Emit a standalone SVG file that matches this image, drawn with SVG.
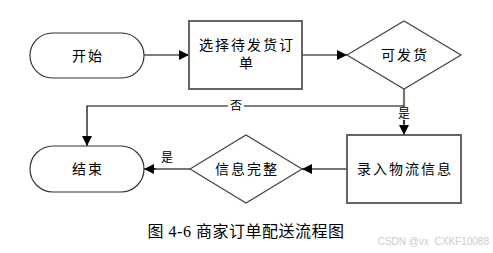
<svg xmlns="http://www.w3.org/2000/svg" width="493" height="253" viewBox="0 0 493 253">
<style>
.t{font-family:"Liberation Sans","Noto Sans CJK SC",sans-serif;font-size:14px;fill:#000;text-anchor:middle;letter-spacing:2px}
.l{font-family:"Liberation Sans","Noto Sans CJK SC",sans-serif;font-size:12px;fill:#000;text-anchor:middle}
.term{fill:#fff;stroke:#333;stroke-width:1.2}
.box{fill:#fff;stroke:#555;stroke-width:1.8}
.dia{fill:#fff;stroke:#444;stroke-width:1.2}
.c{fill:none;stroke:#000;stroke-width:1.2}
.g{fill:none;stroke:#777;stroke-width:2.2}
</style>
<defs>
<marker id="a" viewBox="0 0 10 10" refX="10" refY="5" markerWidth="10" markerHeight="10" markerUnits="userSpaceOnUse" orient="auto">
<path d="M0,0 L10,5 L0,10 Z" fill="#000"/>
</marker>
</defs>
<rect width="493" height="253" fill="#fff"/>
<g id="connectors">
<line class="c" x1="144" y1="55" x2="189" y2="55" marker-end="url(#a)"/>
<line class="c" x1="302" y1="55" x2="347" y2="55" marker-end="url(#a)"/>
<line class="g" x1="404" y1="89" x2="404" y2="124"/>
<line class="c" x1="404" y1="120" x2="404" y2="135" marker-end="url(#a)"/>
<polyline class="c" points="404,106 87,106 87,146" marker-end="url(#a)"/>
<line class="g" x1="347" y1="169" x2="312" y2="169"/>
<line class="c" x1="312" y1="169" x2="302" y2="169" marker-end="url(#a)"/>
<line class="g" x1="190" y1="169" x2="154" y2="169"/>
<line class="c" x1="156" y1="169" x2="144" y2="169" marker-end="url(#a)"/>
<rect x="228" y="99" width="16" height="13" fill="#fff"/>
<text class="l" x="236" y="110">否</text>
<rect x="397" y="107" width="14" height="13" fill="#fff"/>
<text class="l" x="404" y="118">是</text>
<text class="l" x="167" y="162">是</text>
</g>
<g id="start">
<rect class="term" x="30" y="33" width="114" height="45" rx="22.5"/>
<text class="t" x="88" y="61">开始</text>
</g>
<g id="select">
<rect class="box" x="189" y="21" width="113" height="68"/>
<text class="t" x="247" y="50">选择待发货订</text>
<text class="t" x="247" y="68">单</text>
</g>
<g id="canship">
<polygon class="dia" points="347,55 404,21 461,55 404,89"/>
<text class="t" x="405" y="60">可发货</text>
</g>
<g id="logistics">
<rect class="box" x="347" y="135" width="114" height="68"/>
<text class="t" x="405" y="174">录入物流信息</text>
</g>
<g id="complete">
<polygon class="dia" points="190,169 246,135 302,169 246,203"/>
<text class="t" x="247" y="174">信息完整</text>
</g>
<g id="end">
<rect class="term" x="30" y="146" width="114" height="46" rx="23"/>
<text class="t" x="88" y="174">结束</text>
</g>
<text x="246" y="237" font-family="Liberation Serif,'Noto Sans CJK SC',serif" font-size="16" text-anchor="middle" fill="#000" letter-spacing="0.5">图 4-6 商家订单配送流程图</text>
<text x="489" y="245" font-family="Liberation Sans,sans-serif" font-size="10" text-anchor="end" fill="#ccc" xml:space="preserve">CSDN @vx  CXKF10088</text>
</svg>
